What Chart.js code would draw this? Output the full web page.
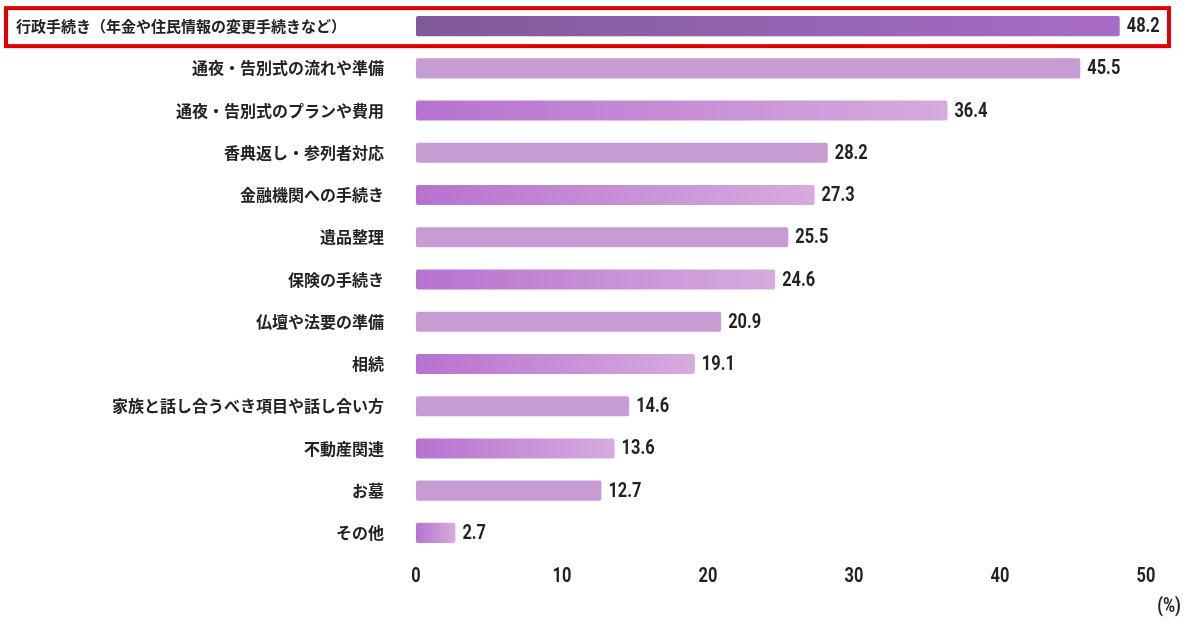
<!DOCTYPE html>
<html>
<head>
<meta charset="utf-8">
<script src="https://cdn.jsdelivr.net/npm/chart.js@4"></script>
<style>
  html, body { margin: 0; padding: 0; background: #fff; }
  #wrap { width: 1200px; height: 629px; }
</style>
</head>
<body>
<div id="wrap"><canvas id="chart"></canvas></div>
<script>
const categories = [
  '行政手続き（年金や住民情報の変更手続きなど）',
  '通夜・告別式の流れや準備',
  '通夜・告別式のプランや費用',
  '香典返し・参列者対応',
  '金融機関への手続き',
  '遺品整理',
  '保険の手続き',
  '仏壇や法要の準備',
  '相続',
  '家族と話し合うべき項目や話し合い方',
  '不動産関連',
  'お墓',
  'その他'
];
const values = [48.2, 45.5, 36.4, 28.2, 27.3, 25.5, 24.6, 20.9, 19.1, 14.6, 13.6, 12.7, 2.7];
const xTicks = [0, 10, 20, 30, 40, 50];

const jpFont = '"Noto Sans CJK JP", "Noto Sans", sans-serif';
const numFont = '"Roboto", "Liberation Sans", sans-serif';

function barFill(ctx) {
  const chart = ctx.chart;
  const i = ctx.dataIndex;
  const x = chart.scales.x;
  if (!x || i === undefined) return '#c79bd3';
  const x0 = x.getPixelForValue(0);
  const x1 = x.getPixelForValue(values[i]);
  if (!isFinite(x0) || !isFinite(x1) || x1 === x0) return i === 0 ? '#9763b2' : '#c79bd3';
  if (i === 0) {
    const g = chart.ctx.createLinearGradient(x0, 0, x1, 0);
    g.addColorStop(0, '#805999');
    g.addColorStop(1, '#a96cc7');
    return g;
  }
  if (i % 2 === 1) return '#c79bd3';
  const g = chart.ctx.createLinearGradient(x0, 0, x1, 0);
  g.addColorStop(0, '#b772d0');
  g.addColorStop(1, '#d6abde');
  return g;
}

// condensed-looking number text
function narrowText(c, str, px, py, align) {
  c.save();
  c.font = 'bold 20px ' + numFont;
  c.textAlign = align;
  c.translate(px, py);
  c.scale(0.82, 1);
  c.fillText(str, 0, 0);
  c.restore();
}

// labels, value text, red box, unit
const extras = {
  id: 'extras',
  afterDatasetsDraw(chart) {
    const c = chart.ctx;
    const x = chart.scales.x;
    const y = chart.scales.y;
    c.save();
    c.textBaseline = 'middle';
    c.fillStyle = '#222';
    categories.forEach((name, i) => {
      const py = y.getPixelForValue(i);
      if (i === 0) {
        c.font = 'bold 15px ' + jpFont;
        c.textAlign = 'left';
        c.fillText(name, 16, py);
      } else {
        c.font = 'bold 16px ' + jpFont;
        c.textAlign = 'right';
        c.fillText(name, 384, py);
      }
      narrowText(c, values[i].toFixed(1), x.getPixelForValue(values[i]) + 7, py + 1, 'left');
    });
    xTicks.forEach(v => {
      narrowText(c, String(v), x.getPixelForValue(v), 577, 'center');
    });
    // highlight box around first row
    const top = y.getPixelForValue(0);
    c.strokeStyle = '#e00000';
    c.lineWidth = 4;
    c.strokeRect(6, top - 18, 1163, 38);
    // unit
    narrowText(c, '(%)', 1169, 607, 'center');
    c.restore();
  }
};

new Chart(document.getElementById('chart'), {
  type: 'bar',
  data: {
    labels: categories,
    datasets: [{
      data: values,
      backgroundColor: barFill,
      borderWidth: 0,
      borderRadius: 2,
      borderSkipped: false,
      barPercentage: 0.5,
      categoryPercentage: 0.95
    }]
  },
  options: {
    indexAxis: 'y',
    responsive: true,
    maintainAspectRatio: false,
    animation: false,
    layout: { padding: { top: 5, right: 54, left: 0, bottom: 0 } },
    plugins: {
      legend: { display: false },
      tooltip: { enabled: false }
    },
    scales: {
      x: {
        min: 0,
        max: 50,
        afterBuildTicks: scale => { scale.ticks = xTicks.map(v => ({ value: v })); },
        afterFit: scale => { scale.height = 629 - 554; },
        grid: { display: false },
        border: { display: false },
        ticks: { display: false }
      },
      y: {
        afterFit: scale => { scale.width = 416; },
        grid: { display: false },
        border: { display: false },
        ticks: { display: false }
      }
    }
  },
  plugins: [extras]
});
</script>
</body>
</html>
